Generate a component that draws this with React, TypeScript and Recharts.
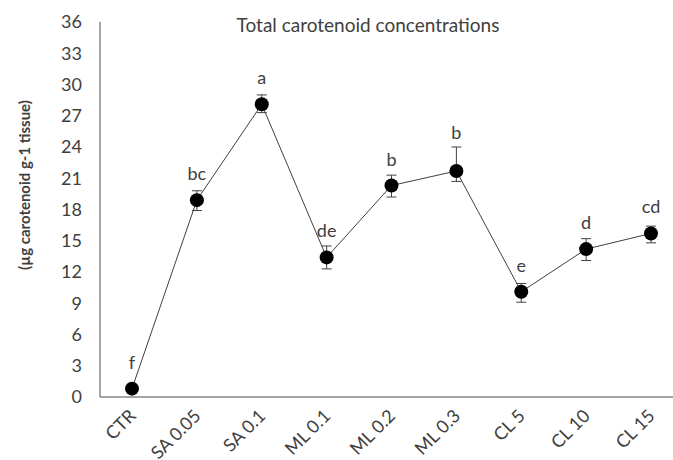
import React from 'react';
import { LineChart, Line, XAxis, YAxis, ErrorBar, LabelList } from 'recharts';

// treatments on the x axis
const treatments = ['CTR', 'SA 0.05', 'SA 0.1', 'ML 0.1', 'ML 0.2', 'ML 0.3', 'CL 5', 'CL 10', 'CL 15'];
// mean total carotenoid (µg g-1 tissue)
const means = [0.8, 18.9, 28.1, 13.4, 20.3, 21.7, 10.1, 14.2, 15.7];
// error bars as [below, above]
const errors: [number, number][] = [
    [0.1, 0.1], [1.0, 0.9], [0.8, 0.9], [1.1, 1.1], [1.1, 1.0],
    [1.0, 2.3], [1.0, 0.8], [1.1, 1.0], [0.9, 0.7],
];
// significance letters
const letters = ['f', 'bc', 'a', 'de', 'b', 'b', 'e', 'd', 'cd'];
const yTicks = [0, 3, 6, 9, 12, 15, 18, 21, 24, 27, 30, 33, 36];

const PLOT_TOP = 22;
const PLOT_H = 375;
const Y_MAX = 36;
const pxPerUnit = PLOT_H / Y_MAX;

const FONT = 'Lato, "Open Sans", sans-serif';
const TEXT = '#404040';

const data = treatments.map((name, i) => ({
    name,
    value: means[i],
    err: errors[i],
    letter: letters[i],
}));

const XTick = (props: any) => {
    const { x, y, payload } = props;
    const tx = x + 5;
    const ty = y + 12;
    return (
        <text
            x={tx}
            y={ty}
            transform={`rotate(-45, ${tx}, ${ty})`}
            textAnchor="end"
            fontSize={18}
            fontFamily={FONT}
            fill={TEXT}
        >
            {payload.value}
        </text>
    );
};

const LetterLabel = (props: any) => {
    const { x, y, index } = props;
    const errTop = y - errors[index][1] * pxPerUnit;
    const ly = Math.min(y - 26, errTop - 14);
    return (
        <text x={x} y={ly} dy={6} textAnchor="middle" fontSize={18} fontFamily={FONT} fill={TEXT}>
            {letters[index]}
        </text>
    );
};

export default function App() {
    return (
        <div style={{ position: 'absolute', left: 0, top: 0, width: 673, height: 460, overflow: 'hidden', background: '#fff' }}>
            <LineChart
                width={683}
                height={460}
                data={data}
                margin={{ top: PLOT_TOP, right: 0, left: 0, bottom: 0 }}
            >
                <XAxis
                    dataKey="name"
                    height={460 - PLOT_TOP - PLOT_H}
                    padding={{ left: 32, right: 32 }}
                    axisLine={{ stroke: '#868686', strokeWidth: 1.5 }}
                    tickLine={false}
                    interval={0}
                    tick={<XTick />}
                />
                <YAxis
                    width={100}
                    domain={[0, Y_MAX]}
                    ticks={yTicks}
                    interval={0}
                    axisLine={{ stroke: '#868686', strokeWidth: 1.5 }}
                    tickLine={false}
                    tickMargin={12}
                    tick={{ fontSize: 18, fontFamily: FONT, fill: TEXT }}
                />
                <Line
                    dataKey="value"
                    stroke="#404040"
                    strokeWidth={1}
                    dot={{ r: 7, fill: '#000', stroke: '#000', strokeWidth: 0 }}
                    isAnimationActive={false}
                >
                    <ErrorBar dataKey="err" direction="y" width={5} stroke="#404040" strokeWidth={1} />
                    <LabelList dataKey="letter" content={<LetterLabel />} />
                </Line>
                <text x={368} y={32} textAnchor="middle" fontSize={19} fontFamily={FONT} fill={TEXT}>
                    Total carotenoid concentrations
                </text>
                <text
                    x={30}
                    y={185}
                    transform="rotate(-90, 30, 185)"
                    textAnchor="middle"
                    fontSize={15}
                    fontWeight="bold"
                    fontFamily={FONT}
                    fill={TEXT}
                >
                    (µg carotenoid g-1 tissue)
                </text>
            </LineChart>
        </div>
    );
}
